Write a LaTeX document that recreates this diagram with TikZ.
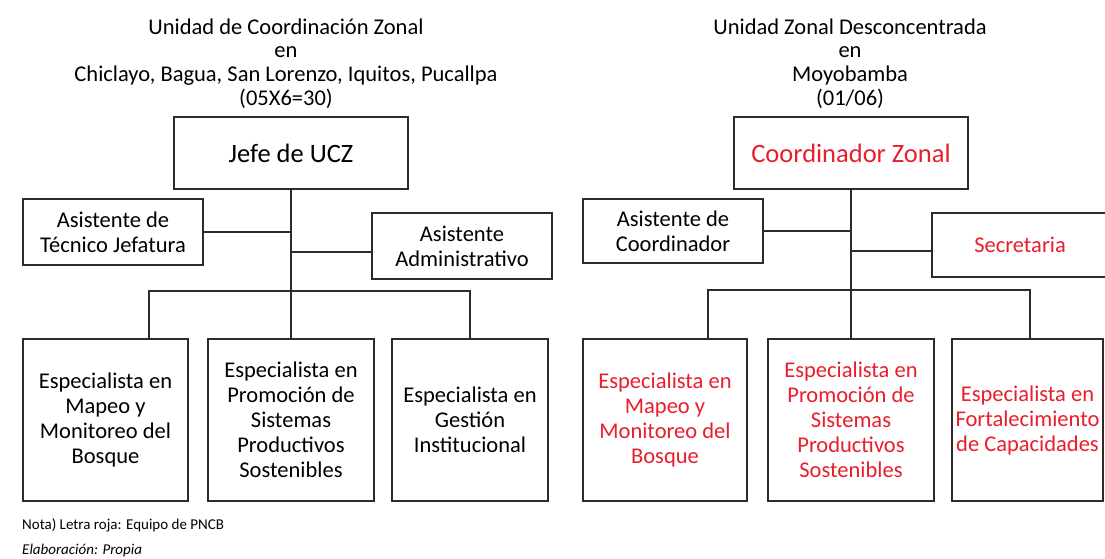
\documentclass[tikz,border=0pt]{standalone}
\usepackage{fontspec}
\setmainfont{Carlito}
\definecolor{rojo}{RGB}{232,30,45}
\definecolor{linea}{RGB}{50,42,42}
\begin{document}
\begin{tikzpicture}[x=1pt,y=-1pt,
  box/.style={draw=linea, line width=2pt, inner sep=0pt, align=center, font=\fontsize{22.5}{25}\selectfont},
  bigbox/.style={box, font=\fontsize{26.5}{30}\selectfont},
  conn/.style={draw=linea, line width=2pt},
  redtxt/.style={text=rojo},
  titulo/.style={align=center, inner sep=0pt, font=\fontsize{22.5}{23.7}\selectfont},
  nota/.style={anchor=west, inner sep=0pt, font=\fontsize{15}{17}\selectfont}]
\useasboundingbox (0,0) rectangle (1105,558);
\fill[white] (0,0) rectangle (1105,558);

% ---------- left chart ----------
\node[titulo] (tl) at (286,63.5) {Unidad de Coordinación Zonal\\en\\Chiclayo, Bagua, San Lorenzo, Iquitos, Pucallpa\\(05X6=30)};
\node[bigbox, minimum width=234, minimum height=72] (jefe) at (291,153) {Jefe de UCZ};
\node[box, minimum width=180, minimum height=66] (ast) at (113,232) {Asistente de\\Técnico Jefatura};
\node[box, minimum width=180, minimum height=66] (adm) at (462,246) {Asistente\\Administrativo};
\node[box, minimum width=165, minimum height=162] (b1) at (105.5,420) {Especialista en\\Mapeo y\\Monitoreo del\\Bosque};
\node[box, minimum width=166, minimum height=162] (b2) at (291,420) {Especialista en\\Promoción de\\Sistemas\\Productivos\\Sostenibles};
\node[box, minimum width=156, minimum height=162] (b3) at (470,420) {Especialista en\\Gestión\\Institucional};
\coordinate (busL) at (291,291);
\draw[conn] (jefe.south) -- (b2.north);
\draw[conn] (ast.east) -- (ast.east -| jefe.south);
\draw[conn] ([yshift=-6pt]adm.west) -- ([yshift=-6pt]adm.west -| jefe.south);
\draw[conn] ([xshift=43.5pt]b1.north) |- (busL) -| (b3.north);

% ---------- right chart ----------
\node[titulo] (tr) at (850,63.5) {Unidad Zonal Desconcentrada\\en\\Moyobamba\\(01/06)};
\node[bigbox, redtxt, minimum width=234, minimum height=72] (coord) at (851,153) {Coordinador Zonal};
\node[box, minimum width=180, minimum height=64] (ac) at (673,231) {Asistente de\\Coordinador};
\node[box, redtxt, minimum width=176, minimum height=64] (sec) at (1020,245) {Secretaria};
\node[box, redtxt, minimum width=164, minimum height=162] (r1) at (665,420) {Especialista en\\Mapeo y\\Monitoreo del\\Bosque};
\node[box, redtxt, minimum width=166, minimum height=162] (r2) at (851,420) {Especialista en\\Promoción de\\Sistemas\\Productivos\\Sostenibles};
\node[box, redtxt, minimum width=151, minimum height=162] (r3) at (1027.5,420) {Especialista en\\Fortalecimiento\\de Capacidades};
\coordinate (busR) at (851,290);
\draw[conn] (coord.south) -- (r2.north);
\draw[conn] (ac.east) -- (ac.east -| coord.south);
\draw[conn] ([yshift=-6pt]sec.west) -- ([yshift=-6pt]sec.west -| coord.south);
\draw[conn] ([xshift=43pt]r1.north) |- (busR) -| ([xshift=2.5pt]r3.north);

% ---------- notes ----------
\node[nota] (nt) at (22,525) {Nota) Letra roja: Equipo de PNCB};
\node[nota, font=\fontsize{15}{17}\selectfont\itshape] (el) at (22,550) {Elaboración: Propia};
\end{tikzpicture}
\end{document}
